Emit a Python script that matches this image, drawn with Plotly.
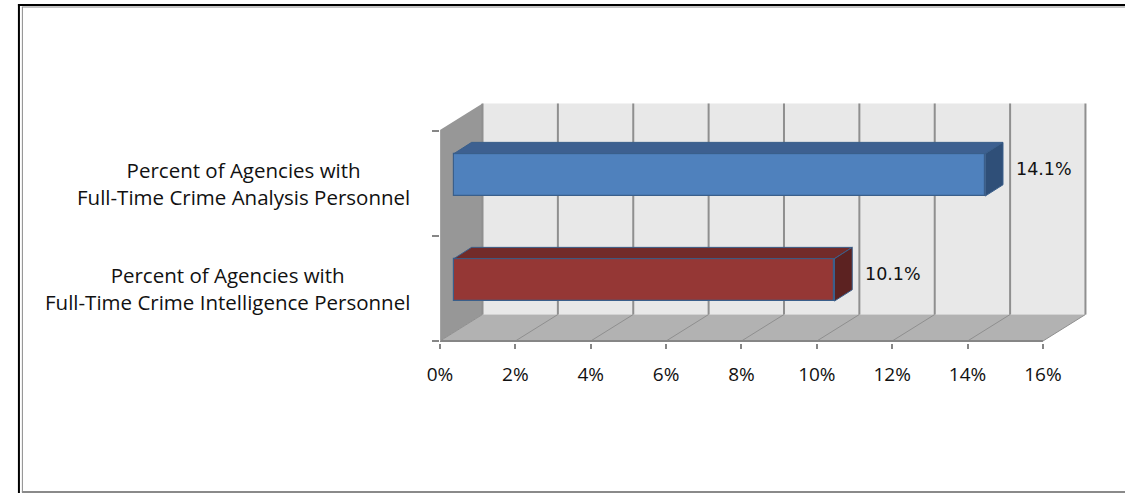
import plotly.graph_objects as go

# ---- data -------------------------------------------------------------
categories = [
    "Percent of Agencies with<br>Full-Time Crime Intelligence Personnel",
    "Percent of Agencies with<br>Full-Time Crime Analysis Personnel",
]
values = [10.1, 14.1]
front_colors = ["#953735", "#4f81bd"]
top_colors = ["#722b29", "#3d6090"]
side_colors = ["#5c2221", "#2f4f78"]
tick_values = [0, 2, 4, 6, 8, 10, 12, 14, 16]
tick_labels = ["0%", "2%", "4%", "6%", "8%", "10%", "12%", "14%", "16%"]

# ---- figure geometry ----------------------------------------------------
W, H = 1125, 493
PX_X = 38.125          # pixels per percentage point
PX_Y = 105.0           # pixels per category step
X0_PX = 432            # pixel column of 0%
YC_PX = 288.5          # pixel row of the first category centre
PLOT_RIGHT_PX = 1092
PLOT_TOP_PX = 95
Y_BOTTOM = -0.52

x_range = [0, (PLOT_RIGHT_PX - X0_PX) / PX_X]
y_range = [Y_BOTTOM, (YC_PX - PLOT_TOP_PX) / PX_Y]
bottom_px = YC_PX - Y_BOTTOM * PX_Y

# oblique depth of the 3-D box (full depth)
DX = 43 / PX_X
DY = 26.5 / PX_Y
# bars sit part-way into the box
BAR_F = 14 / 43
BAR_DX = 18 / PX_X
BAR_DY = 11.3 / PX_Y
BAR_H = 42.4 / PX_Y

Y0, Y1 = -0.5, 1.51
XMAX = tick_values[-1]

LABEL_FONT = "Open Sans"
TEXT_COLOR = "#111111"

fig = go.Figure()

# top and side faces of each bar
for i, v in enumerate(values):
    x0 = BAR_F * DX
    x1 = v + BAR_F * DX
    yc = i + BAR_F * DY
    yt, yb = yc + BAR_H / 2, yc - BAR_H / 2
    fig.add_trace(go.Scatter(
        x=[x0, x1, x1 + BAR_DX, x0 + BAR_DX, x0],
        y=[yt, yt, yt + BAR_DY, yt + BAR_DY, yt],
        fill="toself", fillcolor=top_colors[i], mode="lines",
        line=dict(color="#3a5f8b", width=1), hoverinfo="skip", showlegend=False))
    fig.add_trace(go.Scatter(
        x=[x1, x1 + BAR_DX, x1 + BAR_DX, x1, x1],
        y=[yt, yt + BAR_DY, yb + BAR_DY, yb, yt],
        fill="toself", fillcolor=side_colors[i], mode="lines",
        line=dict(color="#3a5f8b", width=1), hoverinfo="skip", showlegend=False))

# front faces
fig.add_trace(go.Bar(
    orientation="h",
    x=values,
    y=[i + BAR_F * DY for i in range(len(values))],
    base=[BAR_F * DX] * len(values),
    width=BAR_H,
    marker=dict(color=front_colors, line=dict(color="#3a5f8b", width=1.2)),
    hoverinfo="skip", showlegend=False))

shapes = []
# left wall
shapes.append(dict(type="path", xref="x", yref="y", layer="below",
                   path=f"M 0,{Y0} L 0,{Y1} L {DX},{Y1 + DY} L {DX},{Y0 + DY} Z",
                   fillcolor="#979797", line=dict(width=0)))
# back wall
shapes.append(dict(type="rect", xref="x", yref="y", layer="below",
                   x0=DX, x1=XMAX + DX, y0=Y0 + DY, y1=Y1 + DY,
                   fillcolor="#e8e8e8", line=dict(width=0)))
# floor
shapes.append(dict(type="path", xref="x", yref="y", layer="below",
                   path=f"M 0,{Y0} L {DX},{Y0 + DY} L {XMAX + DX},{Y0 + DY} L {XMAX},{Y0} Z",
                   fillcolor="#b2b2b2", line=dict(width=0)))
for t in tick_values:
    # vertical gridlines on the back wall
    shapes.append(dict(type="line", xref="x", yref="y", layer="below",
                       x0=t + DX, x1=t + DX, y0=Y0 + DY, y1=Y1 + DY,
                       line=dict(color="#8f8f8f", width=2)))
    # receding gridlines on the floor
    shapes.append(dict(type="line", xref="x", yref="y", layer="below",
                       x0=t, x1=t + DX, y0=Y0, y1=Y0 + DY,
                       line=dict(color="#8f8f8f", width=1)))
# axis lines along the front edge
shapes.append(dict(type="line", xref="x", yref="y", layer="below",
                   x0=0, x1=XMAX, y0=Y0, y1=Y0,
                   line=dict(color="#868686", width=2)))
shapes.append(dict(type="line", xref="x", yref="y", layer="below",
                   x0=0, x1=0, y0=Y0, y1=Y1,
                   line=dict(color="#a8a8a8", width=1.5)))


# page frame
def px_x(p):
    return p / W


def px_y(p):
    return 1 - p / H


shapes += [
    dict(type="line", xref="paper", yref="paper", x0=px_x(5), x1=1, y0=px_y(5), y1=px_y(5),
         line=dict(color="#000000", width=2)),
    dict(type="line", xref="paper", yref="paper", x0=px_x(9), x1=1, y0=px_y(7), y1=px_y(7),
         line=dict(color="#8a8a8a", width=1)),
    dict(type="line", xref="paper", yref="paper", x0=px_x(6), x1=px_x(6), y0=0, y1=px_y(4),
         line=dict(color="#000000", width=2)),
    dict(type="line", xref="paper", yref="paper", x0=px_x(9.5), x1=px_x(9.5), y0=px_y(492), y1=px_y(7),
         line=dict(color="#8a8a8a", width=1)),
    dict(type="line", xref="paper", yref="paper", x0=px_x(9), x1=1, y0=px_y(492), y1=px_y(492),
         line=dict(color="#8a8a8a", width=2)),
]

annotations = []
# category labels
for i, c in enumerate(categories):
    annotations.append(dict(
        xref="paper", yref="y", x=px_x(404), y=i + 0.0, xanchor="right", yanchor="middle",
        text=c, showarrow=False, align="center",
        font=dict(family=LABEL_FONT, size=20.5, color=TEXT_COLOR)))
# value labels
for i, v in enumerate(values):
    annotations.append(dict(
        xref="x", yref="y",
        x=v + BAR_F * DX + BAR_DX + 11 / PX_X,
        y=i + BAR_F * DY + BAR_DY / 2,
        xanchor="left", yanchor="middle",
        text=f"{v:.1f}%", showarrow=False,
        font=dict(family="DejaVu Sans", size=17.5, color=TEXT_COLOR)))

fig.update_layout(
    width=W, height=H,
    margin=dict(l=0, r=0, t=0, b=0),
    paper_bgcolor="#ffffff", plot_bgcolor="rgba(0,0,0,0)",
    shapes=shapes, annotations=annotations,
    bargap=0, barmode="overlay",
    xaxis=dict(
        domain=[X0_PX / W, PLOT_RIGHT_PX / W], range=x_range,
        tickvals=tick_values, ticktext=tick_labels,
        ticks="outside", ticklen=5, tickwidth=2, tickcolor="#868686",
        ticklabelstandoff=9,
        tickfont=dict(family=LABEL_FONT, size=19, color=TEXT_COLOR),
        showgrid=False, zeroline=False, showline=False, fixedrange=True),
    yaxis=dict(
        domain=[(H - bottom_px) / H, (H - PLOT_TOP_PX) / H], range=y_range,
        tickvals=[-0.5, 0.5, 1.5], ticktext=["", "", ""],
        ticks="outside", ticklen=7, tickwidth=2, tickcolor="#868686",
        showgrid=False, zeroline=False, showline=False, fixedrange=True),
)

fig.write_html("out.html")
